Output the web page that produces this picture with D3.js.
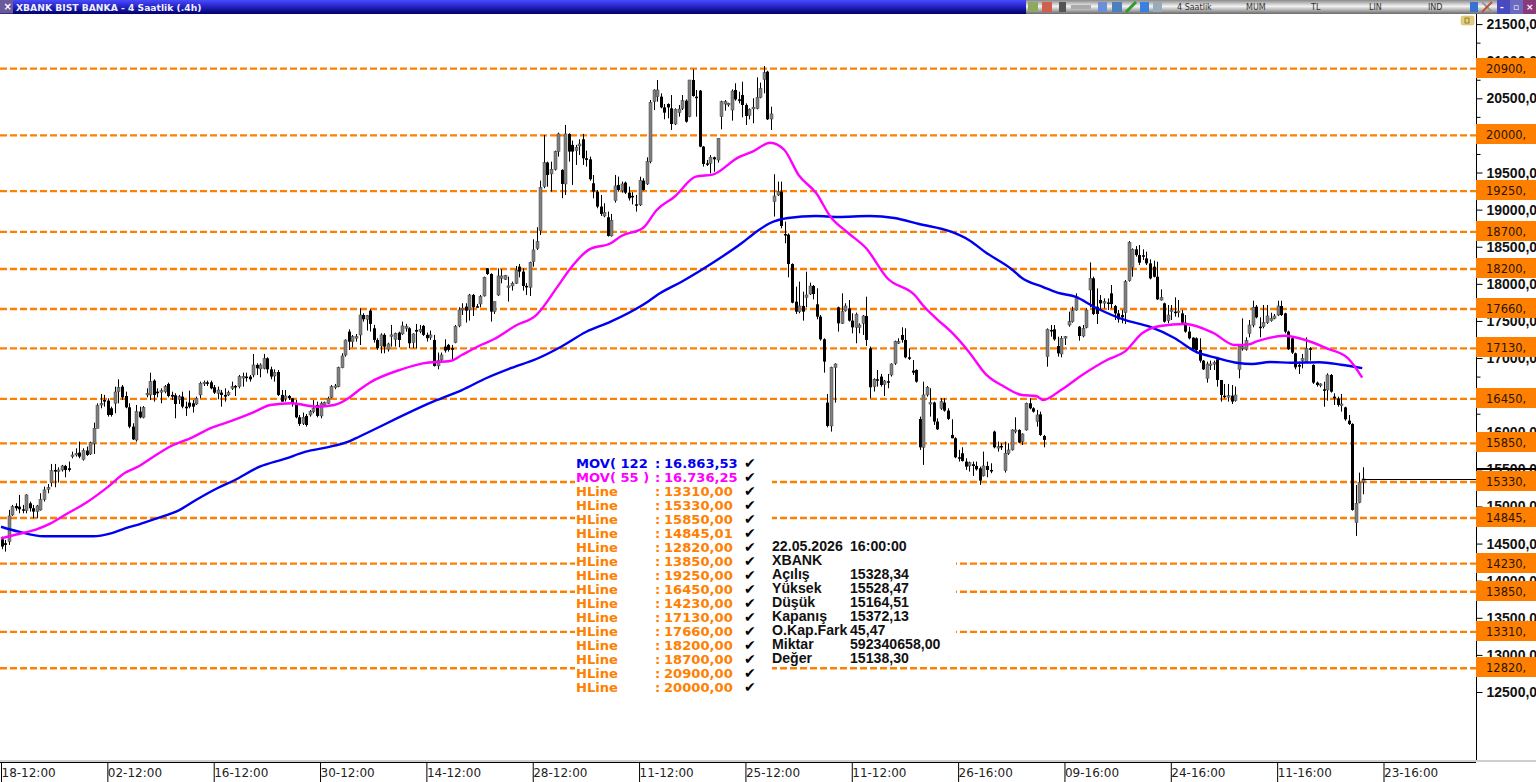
<!DOCTYPE html>
<html><head><meta charset="utf-8">
<script src="https://cdnjs.cloudflare.com/ajax/libs/d3/7.8.5/d3.min.js"></script>
<style>html,body{margin:0;padding:0;background:#fff;overflow:hidden}svg{display:block}</style>
</head><body><svg id="c" width="1536" height="782"></svg>
<script>
// [open, high, low, close]
const candlesA=[[14558,14594,14424,14460],[14505,14549,14392,14482],[14527,14954,14482,14873],[14886,15021,14873,14998],[15007,15043,14944,14976],[14998,15156,14909,14962],[14962,15021,14909,14944],[14944,15165,14909,15156],[15043,15066,14931,14976],[14976,15021,14841,14931],[14931,15021,14841,15007],[14953,15178,14944,15097],[15097,15268,15066,15223],[15232,15304,15178,15254],[15322,15573,15268,15483],[15492,15573,15259,15470],[15479,15528,15322,15492],[15492,15560,15470,15546],[15546,15560,15394,15492],[15515,15605,15470,15492],[15672,15739,15649,15694],[15694,15784,15672,15717],[15726,15874,15649,15672],[15636,15784,15618,15753],[15753,15807,15681,15694],[15708,15874,15694,15860],[15851,16130,15708,16054],[16054,16390,16054,16359],[16368,16516,16323,16390],[16435,16503,16345,16413],[16426,16458,16211,16233],[16323,16345,16211,16233],[16390,16615,16256,16543],[16547,16714,16390,16606],[16615,16637,16435,16471],[16489,16547,16323,16336],[16336,16390,16054,16076],[16076,16121,15896,15905],[15896,16368,15874,16278],[16278,16345,16188,16202],[16202,16354,16188,16336],[16503,16592,16471,16525],[16503,16803,16435,16682],[16696,16714,16413,16503],[16547,16592,16471,16525],[16543,16592,16390,16561],[16547,16637,16525,16615],[16651,16669,16471,16489],[16503,16547,16435,16480],[16498,16525,16188,16381]];
const candlesB=[[16444,16503,16381,16480],[16480,16547,16323,16345],[16345,16413,16220,16323],[16399,16561,16323,16345],[16390,16435,16265,16345],[16381,16480,16368,16458],[16503,16682,16458,16660],[16660,16696,16624,16673],[16673,16696,16624,16660],[16673,16696,16579,16592],[16606,16637,16516,16534],[16525,16615,16444,16570],[16534,16570,16345,16503],[16503,16592,16413,16480],[16503,16561,16489,16534],[16592,16682,16570,16615],[16624,16637,16489,16606],[16615,16772,16592,16750],[16736,16803,16615,16750],[16750,16803,16682,16736],[16750,16772,16682,16714],[16772,17055,16741,16907],[16907,16929,16772,16862],[16853,16929,16741,16907],[16862,17055,16848,16996],[16996,17010,16794,16848],[16848,16884,16714,16750],[16759,16848,16682,16803],[16812,16839,16489,16503],[16503,16570,16413,16413],[16458,16570,16413,16489],[16489,16503,16435,16458],[16458,16458,16345,16390],[16390,16435,16188,16202],[16202,16233,16085,16112],[16121,16265,16098,16202],[16220,16247,16076,16098],[16233,16300,16211,16278],[16278,16435,16256,16323],[16368,16413,16202,16220],[16220,16413,16188,16390],[16368,16413,16345,16399],[16390,16480,16381,16458],[16471,16637,16458,16615],[16606,16651,16579,16624],[16615,16884,16606,16871],[16871,17064,16862,17028],[17041,17252,17019,17243],[17356,17387,17109,17221],[17221,17311,17145,17288],[17275,17324,17221,17288],[17311,17670,17176,17580]];
const candlesC=[[17580,17603,17491,17523],[17523,17581,17370,17572],[17639,17657,17356,17460],[17401,17446,17208,17244],[17244,17267,17110,17132],[17163,17334,17065,17312],[17312,17334,17065,17154],[17119,17208,17087,17190],[17298,17446,17154,17312],[17253,17343,17154,17334],[17343,17356,17145,17244],[17325,17491,17312,17433],[17401,17460,17356,17424],[17401,17415,17132,17199],[17208,17334,17132,17325],[17379,17460,17132,17356],[17356,17446,17334,17388],[17433,17446,17298,17312],[17312,17343,17222,17267],[17280,17370,17244,17312],[17244,17312,16885,16894],[16894,17074,16849,16966],[16975,17074,16952,17042],[17154,17253,17074,17101],[17177,17190,17087,17110],[17132,17177,16975,17119],[17208,17446,17199,17424],[17433,17684,17415,17648],[17648,17738,17581,17671],[17693,17738,17478,17639],[17648,17864,17505,17850],[17850,17864,17567,17684],[17698,17729,17684,17689],[17729,17850,17684,17828],[17837,18097,17828,18088],[18210,18210,18120,18133],[18133,18142,17491,17626],[17626,17761,17594,17761],[17850,18210,17837,18106],[18075,18196,18008,18106],[18061,18120,18052,18115],[17954,18097,17761,17972],[17972,18030,17909,18008],[18008,18241,17999,18187],[18232,18268,18088,18165],[18165,18210,17909,17972],[17972,18008,17850,17954],[17954,18299,17837,18286],[18299,18600,18232,18457]];
const candlesD=[[18480,18763,18457,18569],[18718,19391,18659,19301],[19310,20006,19288,19634],[19634,19647,19310,19467],[19481,19647,19243,19544],[19544,19795,19526,19782],[19782,20038,19714,20020],[19535,19544,19153,19346],[19346,20141,19198,20020],[20020,20029,19647,19782],[19872,19930,19333,19782],[19795,19872,19602,19840],[19858,19948,19737,19885],[19948,20020,19602,19692],[19692,19795,19580,19670],[19678,19714,19391,19409],[19355,19467,19153,19243],[19243,19265,19018,19041],[19041,19198,18915,18942],[18915,19086,18897,18960],[18897,18974,18637,18646],[18646,18942,18637,18852],[19122,19467,19095,19319],[19333,19445,19243,19265],[19256,19378,19229,19346],[19364,19378,19211,19229],[19229,19310,19122,19153],[19185,19235,19070,19167],[19072,19198,18973,19054],[19063,19444,19049,19391],[19391,19422,19256,19265],[19346,19705,19332,19647],[19647,20477,19624,20446],[20455,20621,20342,20612],[20522,20747,20455,20612],[20522,20567,20365,20378],[20378,20423,20217,20307],[20423,20432,20230,20378],[20365,20544,20073,20154],[20154,20365,20140,20351],[20307,20410,20253,20356],[20365,20544,20342,20468],[20468,20486,20172,20185],[20253,20747,20244,20747],[20747,20890,20522,20531],[20522,20612,20253,20509],[20603,20612,19840,19849],[19849,19858,19579,19615],[19624,19669,19588,19610],[19624,19736,19489,19705]];
const candlesE=[[19705,19714,19512,19678],[19669,19961,19633,19961],[20253,20468,20082,20455],[20423,20477,20333,20455],[20419,20441,20387,20432],[20342,20621,20199,20598],[20612,20702,20468,20486],[20486,20589,20432,20468],[20544,20724,20244,20410],[20410,20432,20140,20262],[20271,20365,20217,20351],[20360,20500,20163,20378],[20365,20782,20351,20513],[20513,20711,20500,20634],[20756,20935,20567,20845],[20859,20872,20208,20217],[20221,20387,20073,20289],[19108,19476,18906,19184],[19197,19377,19184,19242],[19242,19377,18748,18780],[18671,18838,18546,18658],[18662,18680,18088,18267],[18267,18276,17738,17746],[17760,17962,17594,17625],[17625,18029,17603,17702],[17702,17895,17504,17625],[17818,18164,17684,17850],[17863,18016,17850,17971],[17971,17984,17791,17863],[17724,17940,17522,17558],[17558,17580,17235,17253],[17253,17266,16804,16952],[16399,16516,16067,16085],[16085,16884,16009,16875],[16875,16929,16399,16920],[17684,17693,17356,17468],[17468,17872,17459,17625],[17639,17738,17625,17702],[17670,17782,17491,17504],[17504,17603,17333,17414],[17414,17612,17199,17589],[17414,17468,17333,17445],[17468,17580,17311,17567],[17567,17827,17163,17244],[17131,17154,16458,16606],[16615,16727,16548,16714],[16714,16839,16615,16696],[16750,16786,16615,16637],[16646,16705,16489,16691],[16687,16786,16593,16678]];
const candlesF=[[16772,16929,16750,16920],[16929,17235,16907,17221],[17208,17266,17190,17221],[17311,17414,17208,17244],[17244,17401,16997,17010],[17010,17131,16974,17001],[16830,16974,16772,16803],[16839,16848,16669,16682],[16179,16211,15762,15798],[15798,16682,15560,16503],[16503,16624,16480,16606],[16382,16593,16211,16400],[16400,16413,16099,16144],[16144,16188,16031,16040],[16323,16458,16301,16413],[16400,16458,16278,16292],[16292,16323,16166,16180],[15964,16175,15919,15919],[15919,15932,15650,15663],[15663,15762,15605,15645],[15717,15798,15605,15614],[15605,15650,15493,15537],[15546,15605,15470,15591],[15569,15605,15412,15546],[15546,15605,15484,15501],[15515,15537,15290,15349],[15412,15739,15403,15546],[15546,15605,15394,15492],[15492,15582,15448,15483],[16009,16022,15784,15798],[15793,15874,15739,15807],[15816,15852,15762,15798],[15483,15874,15457,15717],[15717,15852,15695,15762],[15762,16040,15753,16031],[16017,16202,15986,16031],[16031,16040,15852,15861],[15874,15986,15829,15977],[16031,16400,16022,16390],[16390,16458,16310,16323],[16323,16337,16265,16278],[16144,16301,16076,16233],[16242,16278,15950,15964],[15950,15964,15798,15897]];
const candlesG=[[17019,17400,16884,17387],[17378,17445,17288,17364],[17387,17445,17234,17252],[17162,17288,17019,17064],[17055,17297,17010,17266],[17275,17297,17176,17288],[17445,17625,17423,17490],[17490,17692,17477,17638],[17647,17872,17638,17827],[17423,17432,17234,17297],[17297,17445,17279,17400],[17414,17670,17400,17647],[17917,18289,17683,18074],[18074,18096,17580,17594],[17692,17939,17459,17594],[17782,17849,17647,17737],[17746,17804,17670,17760],[17749,17804,17647,17737],[17872,17984,17670,17728],[17701,17715,17513,17602],[17602,17647,17477,17522],[17580,17647,17468,17549],[17611,18051,17459,18029],[18043,18577,18029,18559],[18222,18478,18096,18465],[18465,18509,18366,18388],[18388,18523,18254,18285],[18385,18465,18321,18375],[18343,18433,18254,18276],[18276,18330,18060,18074],[18231,18312,18087,18096],[18096,18298,17782,17791],[17782,17926,17773,17818],[17737,17746,17477,17490],[17504,17715,17468,17580],[17634,17715,17513,17647],[17625,17818,17558,17611],[17616,17782,17549,17634],[17602,17647,17459,17477],[17477,17580,17342,17356],[17356,17423,17252,17266],[17275,17279,17100,17118],[17266,17279,17064,17109],[17109,17266,16938,16965],[16965,16974,16839,16848]];
const candlesH=[[16727,16951,16669,16920],[16907,16965,16839,16920],[16920,16965,16839,16938],[16983,16996,16615,16704],[16704,16704,16413,16502],[16493,16651,16457,16480],[16480,16651,16413,16493],[16493,16637,16381,16413],[16426,16615,16413,16502],[16848,17176,16727,17162],[17131,17535,17100,17153],[17118,17279,17100,17234],[17333,17513,17279,17445],[17445,17773,17414,17683],[17692,17715,17535,17549],[17423,17549,17279,17414],[17423,17715,17400,17477],[17477,17715,17459,17567],[17504,17611,17490,17535],[17535,17593,17522,17567],[17580,17773,17567,17701],[17701,17773,17567,17580],[17602,17611,17333,17356],[17356,17369,17109,17118],[17266,17279,17055,17073],[17064,17073,16848,16875],[16907,16951,16785,16884],[16965,17055,16861,16996],[16951,17279,16938,17131],[17131,17145,16965,17118],[16907,16916,16651,16669],[16669,16682,16615,16637],[16633,16660,16606,16651],[16579,16682,16345,16561],[16570,16794,16426,16772],[16772,16785,16534,16547],[16480,16525,16368,16457],[16457,16480,16345,16368],[16363,16516,16278,16381],[16336,16345,16157,16175],[16157,16233,16098,16112],[16112,16121,14944,14953],[14783,15290,14603,15043],[15052,15456,15043,15322],[15328.34,15528.47,15164.51,15372.13]];
// Moving averages, read at sampled bars
const mov122Bars=[0,5,12,19,26,31,35,39,44,50,55,61,66,73,80,86,92,98,101,123,130,137,144,151,158,165,172,181,186,192,202,209,213,217,222,230,236,245,252,259,268,273,278,285,288,294,298,303,309,317,324,331,337,343,349,353,358,364,372,378,384];
const mov122Values=[14727,14660,14598,14598,14598,14638,14706,14760,14841,14943,15087,15245,15357,15536,15640,15738,15797,15873,15940,16435,16569,16731,16866,16987,17153,17351,17490,17715,17877,18029,18321,18550,18699,18820,18887,18914,18901,18914,18887,18806,18702,18591,18416,18200,18079,17957,17881,17827,17674,17513,17422,17270,17086,17001,16933,16920,16947,16937,16943,16910,16864];
const mov55Bars=[0,5,10,14,18,24,30,35,39,43,48,54,59,65,71,76,82,89,94,98,101,104,113,119,127,130,136,139,145,151,157,161,166,172,175,181,185,190,196,201,208,212,217,221,225,230,234,239,244,250,258,260,264,268,273,278,283,288,292,294,299,305,312,317,322,327,334,342,348,352,354,362,368,374,380,384];
const mov55Values=[14571,14629,14692,14773,14885,15051,15258,15455,15545,15671,15815,15932,16053,16152,16264,16367,16390,16344,16367,16458,16569,16668,16848,16929,16964,17041,17189,17253,17432,17580,17962,18231,18465,18546,18645,18748,18995,19174,19444,19476,19705,19781,19902,19803,19467,19220,18905,18685,18483,18079,17836,17715,17526,17355,17086,16772,16614,16502,16489,16435,16569,16772,16974,17086,17338,17432,17459,17338,17176,17185,17220,17301,17243,17131,16997,16736];
const hLines=[20900,20000,19250,18700,18200,17660,17130,16450,15850,15330,14845.01,14230,13850,13310,12820];
const yMajor=[12500,13000,13500,14000,14500,15000,15500,16000,16500,17000,17500,18000,18500,19000,19500,20000,20500,21000,21500];
const yMinor=[12750,13250,13750,14250,14750,15250,15750,16250,16750,17250,17750,18250,18750,19250,19750,20250,20750,21250];
const xTickLabels=["18-12:00","02-12:00","16-12:00","30-12:00","14-12:00","28-12:00","11-12:00","25-12:00","11-12:00","26-16:00","09-16:00","24-16:00","11-16:00","23-16:00"];
const legendMov=[["MOV( 122",":","16.863,53","#0000f0"],["MOV( 55 )",":","16.736,25","#ff00ff"]];
const legendHLines=["13310,00","15330,00","15850,00","14845,01","12820,00","13850,00","19250,00","16450,00","14230,00","17130,00","17660,00","18200,00","18700,00","20900,00","20000,00"];
const infoLabels=["22.05.2026","XBANK","Açılış","Yüksek","Düşük","Kapanış","O.Kap.Fark","Miktar","Değer"];
const infoValues=["16:00:00","","15328,34","15528,47","15164,51","15372,13","45,47","592340658,00","15138,30"];
const toolbarTexts=[["4 Saatlik",1177],["MUM",1246],["TL",1311],["LIN",1369],["IND",1428]];
const titleText="XBANK BIST BANKA - 4 Saatlik (.4h)";

const ORANGE="#ff8000",W=1536,H=782,R=1476;
const candles=d3.merge([candlesA,candlesB,candlesC,candlesD,candlesE,candlesF,candlesG,candlesH]);
const svg=d3.select("#c");
const x=d3.scaleLinear().domain([0,390]).range([1,1383.5]);
const y=d3.scaleLinear().domain([12500,21500]).range([692,24.1]);

// defs
const defs=svg.append("defs");
const g1=defs.append("linearGradient").attr("id","tb").attr("x2",0).attr("y2",1);
[[0,"#4a4aff"],[.5,"#2222c0"],[1,"#000068"]].forEach(s=>g1.append("stop").attr("offset",s[0]).attr("stop-color",s[1]));
const g2=defs.append("linearGradient").attr("id","tg").attr("x2",0).attr("y2",1);
[[0,"#8a8a8a"],[.45,"#f4f4f4"],[1,"#6a6a6a"]].forEach(s=>g2.append("stop").attr("offset",s[0]).attr("stop-color",s[1]));

// horizontal lines
svg.append("g").selectAll("line").data(hLines).join("line")
 .attr("x1",0).attr("x2",R).attr("y1",d=>y(d)).attr("y2",d=>y(d))
 .attr("stroke",ORANGE).attr("stroke-width",2.4).attr("stroke-dasharray","7 3");

// legend backgrounds
svg.append("rect").attr("x",575).attr("y",456).attr("width",197).attr("height",240).attr("fill","#fff");
svg.append("rect").attr("x",772).attr("y",537).attr("width",184).attr("height",128).attr("fill","#fff");

// candles
const cg=svg.append("g");
cg.selectAll("line").data(candles).join("line")
 .attr("x1",(d,i)=>Math.round(x(i)+.5)+.5).attr("x2",(d,i)=>Math.round(x(i)+.5)+.5)
 .attr("y1",d=>y(d[1])).attr("y2",d=>y(d[2])).attr("stroke","#000").attr("stroke-width",1);
cg.selectAll("rect").data(candles).join("rect")
 .attr("x",(d,i)=>Math.round(x(i)+.5)-1).attr("width",3)
 .attr("y",d=>y(Math.max(d[0],d[3])))
 .attr("height",d=>Math.max(1.5,Math.abs(y(d[0])-y(d[3]))))
 .attr("fill",d=>d[3]>=d[0]?"#808080":"#000")
 .attr("stroke",d=>d[3]>=d[0]?"#444":"none").attr("stroke-width",.5);

// moving averages
const ln=d3.line().curve(d3.curveMonotoneX).x(d=>x(d[0])).y(d=>y(d[1]));
svg.append("path").attr("d",ln(d3.zip(mov122Bars,mov122Values))).attr("fill","none").attr("stroke","#0000f0").attr("stroke-width",2.4);
svg.append("path").attr("d",ln(d3.zip(mov55Bars,mov55Values))).attr("fill","none").attr("stroke","#ff00ff").attr("stroke-width",2.4);

// price line from the last candle
const last=candles[candles.length-1];
svg.append("line").attr("x1",x(candles.length-1)).attr("x2",R).attr("y1",Math.round(y(last[3]))+.5).attr("y2",Math.round(y(last[3]))+.5).attr("stroke","#000");

// legend text
const leg=svg.append("g").attr("font-family","'DejaVu Sans',sans-serif").attr("font-weight","bold").attr("font-size",13.1);
const rows=legendMov.concat(legendHLines.map(v=>["HLine",":",v,ORANGE]));
rows.forEach((r,i)=>{
 const yy=468+i*14;
 leg.append("text").attr("x",576).attr("y",yy).attr("fill",r[3]).text(r[0]);
 leg.append("text").attr("x",655).attr("y",yy).attr("fill",r[3]).text(r[1]);
 leg.append("text").attr("x",664).attr("y",yy).attr("fill",r[3]).text(r[2]);
 leg.append("text").attr("x",744).attr("y",yy).attr("fill","#000").attr("font-size",14).text("✔");
});
const info=svg.append("g").attr("font-family","'Liberation Sans',Arial,sans-serif").attr("font-weight","bold").attr("font-size",14.15).attr("fill","#111");
infoLabels.forEach((t,i)=>{
 info.append("text").attr("x",772).attr("y",551+i*14).text(t);
 info.append("text").attr("x",850).attr("y",551+i*14).text(infoValues[i]);
});

// right axis
const axR=svg.append("g").attr("transform",`translate(${R+.5},0)`)
 .call(d3.axisRight(y).tickValues(yMajor).tickSize(6).tickPadding(4).tickFormat(d=>d+",00"));
axR.select(".domain").remove();
axR.selectAll("line").attr("stroke","#000");
axR.selectAll("text").attr("font-family","'Liberation Sans',Arial,sans-serif").attr("font-weight","bold").attr("font-size",14).attr("fill","#111");
const axM=svg.append("g").attr("transform",`translate(${R+.5},0)`).call(d3.axisRight(y).tickValues(yMinor).tickSize(4).tickFormat(""));
axM.select(".domain").remove(); axM.selectAll("line").attr("stroke","#000");
svg.append("line").attr("x1",R+.5).attr("x2",R+.5).attr("y1",14).attr("y2",762).attr("stroke","#000");
svg.append("rect").attr("x",R).attr("y",468).attr("width",W-R).attr("height",2).attr("fill","#000");

// orange tags
const tg=svg.append("g");
tg.selectAll("rect").data(hLines).join("rect").attr("x",R).attr("width",W-R).attr("y",d=>Math.round(y(d))-11).attr("height",20).attr("fill",ORANGE);
tg.selectAll("text").data(hLines).join("text").attr("x",1486).attr("y",d=>Math.round(y(d))+4)
 .attr("font-family","'DejaVu Sans',sans-serif").attr("font-size",11.5).attr("fill","#2a1500").text(d=>Math.floor(d)+",");

// bottom axis
svg.append("rect").attr("x",0).attr("y",760).attr("width",W).attr("height",2).attr("fill","#cfcfcf");
const axB=svg.append("g").attr("transform","translate(0,762.5)")
 .call(d3.axisBottom(x).tickValues(d3.range(0,391,30)).tickSize(20).tickFormat((d,i)=>xTickLabels[i]));
axB.select(".domain").attr("d",`M0,0H${R}`).attr("stroke","#000");
axB.selectAll("line").attr("stroke","#000");
axB.selectAll("text").attr("text-anchor","start").attr("x",0).attr("y",5).attr("dy",".8em")
 .attr("font-family","'DejaVu Sans',sans-serif").attr("font-size",12).attr("fill","#222");

// title bar
svg.append("rect").attr("width",1026).attr("height",14).attr("fill","url(#tb)");
svg.append("rect").attr("x",1026).attr("width",W-1026).attr("height",14).attr("fill","url(#tg)");
svg.append("rect").attr("width",13).attr("height",13.5).attr("fill","#6a5a9a");
svg.append("text").attr("x",3.5).attr("y",10).attr("font-family","'DejaVu Sans',sans-serif").attr("font-weight","bold").attr("font-size",10).attr("fill","#fff").text("×");
svg.append("text").attr("x",16).attr("y",10.5).attr("font-family","'DejaVu Sans',sans-serif").attr("font-weight","bold").attr("font-size",9.2).attr("fill","#eef").text(titleText);
svg.selectAll(".tbt").data(toolbarTexts).join("text").attr("class","tbt").attr("x",d=>d[1]).attr("y",10).attr("font-family","'DejaVu Sans',sans-serif").attr("font-size",8).attr("fill","#333").text(d=>d[0]);
// toolbar icons
const icons=[[1028,"#8fa860",10],[1042,"#d0604a",10],[1059,"#555",7],[1071,"#aaa",20],[1098,"#6a8fd8",9],[1112,"#4a80c0",10],[1140,"#3a80e0",9],[1153,"#9ab",9],[1470,"#3a70d0",8]];
svg.selectAll(".ic").data(icons).join("rect").attr("class","ic").attr("x",d=>d[0]).attr("y",d=>d[2]>15?5:2).attr("width",d=>d[2]).attr("height",d=>d[2]>15?4:10).attr("fill",d=>d[1]);
svg.append("line").attr("x1",1126).attr("y1",12).attr("x2",1136).attr("y2",2).attr("stroke","#2f9a2f").attr("stroke-width",3);
svg.append("line").attr("x1",1482).attr("y1",2).attr("x2",1492).attr("y2",12).attr("stroke","#999").attr("stroke-width",2);
svg.append("line").attr("x1",1492).attr("y1",2).attr("x2",1482).attr("y2",12).attr("stroke","#c05030").attr("stroke-width",2);
[[1497,"#4a4ac0"],[1510,"#6a6ac0"],[1523,"#8a3a7a"]].forEach(b=>svg.append("rect").attr("x",b[0]).attr("width",13).attr("height",14).attr("fill",b[1]));
[[1500,"-"],[1513,"▫"],[1526,"×"]].forEach(b=>svg.append("text").attr("x",b[0]).attr("y",10).attr("font-size",9).attr("font-weight","bold").attr("font-family","'DejaVu Sans',sans-serif").attr("fill","#fff").text(b[1]));
svg.append("rect").attr("x",1461).attr("y",16).attr("width",13).attr("height",9).attr("rx",2).attr("fill","#e6cf7a").attr("stroke","#c8b060").attr("stroke-width",.5);
svg.append("rect").attr("x",1465).attr("y",18).attr("width",4).attr("height",5).attr("fill","none").attr("stroke","#6a5a20").attr("stroke-width",.7);
</script></body></html>
